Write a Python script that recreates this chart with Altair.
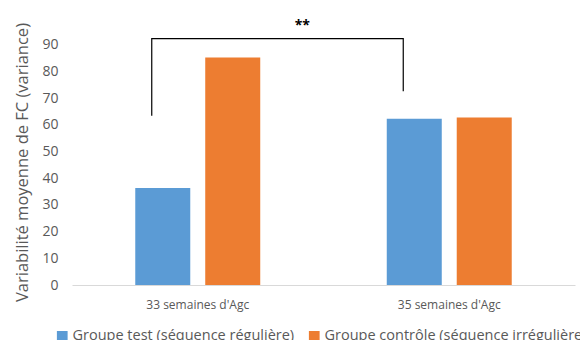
import altair as alt
import pandas as pd

categories = ["33 semaines d'Agc", "35 semaines d'Agc"]
groups = ["Groupe test (séquence régulière)", "Groupe contrôle (séquence irrégulière)"]
values_test = [36.3, 62.3]
values_ctrl = [85.2, 62.7]
colors = ["#5B9BD5", "#ED7D31"]

bars = pd.DataFrame({
    "cat": categories * 2,
    "grp": [groups[0]] * 2 + [groups[1]] * 2,
    "val": values_test + values_ctrl,
})

# significance bracket (between the two categories)
bracket_y = [63.4, 92.3, 92.3, 72.6]
bracket = pd.DataFrame({
    "cat": [categories[0], categories[0], categories[1], categories[1]],
    "val": bracket_y,
    "ord": [0, 1, 2, 3],
})
star = pd.DataFrame({"cat": [categories[1]], "val": [98.6], "txt": ["**"]})
y_ticks = [0, 10, 20, 30, 40, 50, 60, 70, 80, 90]

FONT = "Open Sans"
GREY = "#595959"

x = alt.X("cat:N", sort=categories, title=None,
          scale=alt.Scale(paddingInner=0, paddingOuter=0),
          axis=alt.Axis(labelAngle=0, ticks=False, domainColor="#d9d9d9", domainWidth=1,
                        labelColor=GREY, labelFontSize=12, labelFont=FONT, labelPadding=14))
xo = alt.XOffset("grp:N", sort=groups,
                 scale=alt.Scale(paddingInner=0.214, paddingOuter=0.904))
y = alt.Y("val:Q", title="Variabilité moyenne de FC (variance)",
          scale=alt.Scale(domain=[0, 100], nice=False),
          axis=alt.Axis(values=y_ticks, grid=False, domain=False, ticks=False,
                        labelOverlap=False, labelFlush=False,
                        labelColor=GREY, labelFontSize=14, labelFont=FONT, labelPadding=14,
                        titleColor=GREY, titleFontSize=16.5, titleFont=FONT, titleFontWeight="normal",
                        titlePadding=11, titleY=144))

bar_layer = alt.Chart(bars).mark_bar().encode(
    x=x, xOffset=xo, y=y,
    color=alt.Color("grp:N", sort=groups, scale=alt.Scale(domain=groups, range=colors),
                    legend=alt.Legend(title=None, orient="none", direction="horizontal",
                                      legendX=-17, legendY=311, symbolType="square",
                                      symbolSize=115, symbolStrokeWidth=0, labelFontSize=14.5,
                                      labelFont=FONT, labelColor=GREY, columnPadding=12,
                                      labelOffset=3, labelLimit=400)),
)

line_layer = alt.Chart(bracket).mark_line(color="#000000", strokeWidth=1.2, xOffset=-46).encode(
    x=x, y=y, order="ord:Q",
)

text_layer = alt.Chart(star).mark_text(fontWeight="bold", fontSize=14, dx=-147, dy=4,
                                       font=FONT, color="#000000").encode(
    x=x, y=y, text="txt:N",
)

chart = alt.layer(bar_layer, line_layer, text_layer).properties(
    width=503, height=267,
    autosize=alt.AutoSizeParams(type="none"),
    padding={"left": 64, "top": 10, "right": 5, "bottom": 55},
).configure_view(stroke=None)

chart.save("out.html", embed_options={"renderer": "svg", "actions": False})
